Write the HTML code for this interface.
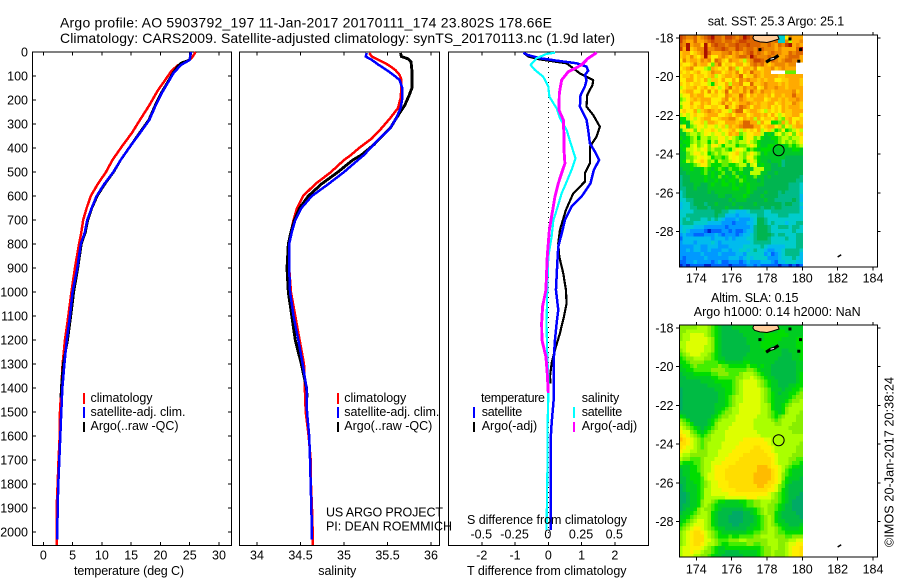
<!DOCTYPE html>
<html lang="en">
<head>
<meta charset="utf-8">
<title>Argo profile 5903792_197</title>
<style>
html,body{margin:0;padding:0;background:#fff}
svg{display:block}
text{font-family:"Liberation Sans",sans-serif;fill:#000;font-size:12.5px}
.ttl{font-size:14px}
</style>
</head>
<body>
<svg id="chart" xmlns="http://www.w3.org/2000/svg" width="900" height="580" viewBox="0 0 900 580">
<rect x="0" y="0" width="900" height="580" fill="#fff"/>
<g id="maps"></g>
<g id="plots"></g>
<text class="ttl" x="60" y="27.5" textLength="492" lengthAdjust="spacing">Argo profile: AO 5903792_197 11-Jan-2017 20170111_174 23.802S 178.66E</text>
<text class="ttl" x="60" y="43" textLength="555" lengthAdjust="spacing">Climatology: CARS2009. Satellite-adjusted climatology: synTS_20170113.nc (1.9d later)</text>

<text x="74" y="575" textLength="110" lengthAdjust="spacing">temperature (deg C)</text>
<text x="318.3" y="575" textLength="38" lengthAdjust="spacing">salinity</text>
<text x="467" y="575" textLength="159.5" lengthAdjust="spacing">T difference from climatology</text>
<text x="467" y="524" textLength="160" lengthAdjust="spacing">S difference from climatology</text>

<g>
<rect x="83" y="393" width="2" height="11" fill="#f00"/>
<rect x="83" y="407" width="2" height="11" fill="#00f"/>
<rect x="83" y="422" width="2" height="10" fill="#000"/>
<text x="90.5" y="402" textLength="62" lengthAdjust="spacing">climatology</text>
<text x="90.5" y="416" textLength="95" lengthAdjust="spacing">satellite-adj. clim.</text>
<text x="90.5" y="430" textLength="88" lengthAdjust="spacing">Argo(..raw -QC)</text>
</g>
<g>
<rect x="337" y="393" width="2" height="11" fill="#f00"/>
<rect x="337" y="407" width="2" height="11" fill="#00f"/>
<rect x="337" y="422" width="2" height="10" fill="#000"/>
<text x="344.3" y="402" textLength="62" lengthAdjust="spacing">climatology</text>
<text x="344.3" y="416" textLength="95" lengthAdjust="spacing">satellite-adj. clim.</text>
<text x="344.3" y="430" textLength="88" lengthAdjust="spacing">Argo(..raw -QC)</text>
</g>
<text x="326" y="516.7" textLength="117" lengthAdjust="spacing">US ARGO PROJECT</text>
<text x="326" y="530.7" textLength="126" lengthAdjust="spacing">PI: DEAN ROEMMICH</text>
<g>
<text x="481" y="402" textLength="64" lengthAdjust="spacing">temperature</text>
<text x="581.7" y="402" textLength="37.5" lengthAdjust="spacing">salinity</text>
<rect x="473" y="407" width="2" height="11" fill="#00f"/>
<rect x="473" y="422" width="2" height="10" fill="#000"/>
<rect x="573" y="407" width="2" height="11" fill="#0ff"/>
<rect x="573" y="422" width="2" height="10" fill="#f0f"/>
<text x="481.7" y="416" textLength="40.5" lengthAdjust="spacing">satellite</text>
<text x="481.7" y="430" textLength="55.5" lengthAdjust="spacing">Argo(-adj)</text>
<text x="581.7" y="416" textLength="40.5" lengthAdjust="spacing">satellite</text>
<text x="581.7" y="430" textLength="55.5" lengthAdjust="spacing">Argo(-adj)</text>
</g>

<text x="707.7" y="25.7" textLength="136.5" lengthAdjust="spacing">sat. SST: 25.3 Argo: 25.1</text>
<text x="711" y="302" textLength="87.5" lengthAdjust="spacing">Altim. SLA: 0.15</text>
<text x="693.7" y="316" textLength="167" lengthAdjust="spacing">Argo h1000: 0.14 h2000: NaN</text>
<text transform="translate(893.5 547) rotate(-90)" x="0" y="0" textLength="170" lengthAdjust="spacing">©IMOS 20-Jan-2017 20:38:24</text>
</svg>
<script>
// ---------- chart data ----------
const depthTicks = [0,100,200,300,400,500,600,700,800,900,1000,1100,1200,1300,1400,1500,1600,1700,1800,1900,2000];
const tempTicks = [0,5,10,15,20,25,30];
const salTicks = [34,34.5,35,35.5,36];
const salTickLabels = ['34','34.5','35','35.5','36'];
const tDiffTicks = [-2,-1,0,1,2];
const sDiffTicks = [-0.5,-0.25,0,0.25,0.5];
const sDiffTickLabels = ['-0.5','-0.25','0','0.25','0.5'];
const mapLonTicks = [174,176,178,180,182,184];
const mapLatTicks = [-18,-20,-22,-24,-26,-28];

const tempClimDepth = [0,26,47,55,78,117,158,222,283,338,394,450,500,550,600,650,700,750,800,900,1000,1100,1200,1300,1400,1500,1600,1700,1800,1900,2000,2053];
const tempClim = [26.0,25.3,24.0,23.0,21.9,20.8,19.6,18.1,16.5,15.1,13.4,11.8,10.7,9.3,8.1,7.4,6.8,6.5,6.1,5.4,4.8,4.27,3.7,3.3,3.07,2.85,2.8,2.6,2.45,2.28,2.33,2.28];
const tempSatDepth = [0,33,54,89,131,172,222,283,338,394,450,500,550,600,650,700,750,800,900,1000,1100,1200,1300,1400,1500,1600,1700,1800,1900,2000,2030];
const tempSat = [25.2,25.0,23.5,22.2,21.2,20.2,19.2,18.1,16.5,14.8,13.2,11.95,10.4,9.1,8.25,7.5,7.1,6.4,5.8,5.0,4.55,4.0,3.6,3.25,3.07,2.9,2.73,2.56,2.45,2.39,2.39];
const tempArgoDepth = [0,33,45,60,89,131,172,222,283,338,394,450,500,550,600,650,700,750,800,900,1000,1100,1200,1300,1400,1440];
const tempArgo = [25.2,25.0,23.6,22.9,22.1,21.1,20.1,19.1,18.0,16.4,14.8,13.2,12.0,10.5,9.2,8.3,7.6,7.2,6.5,5.9,5.2,4.7,4.15,3.4,3.07,3.0];

const salClimDepth = [4,19,33,54,75,96,117,151,193,234,276,318,360,401,429,450,500,550,600,650,700,750,800,900,1000,1100,1200,1300,1400,1500,1600,1700,1800,1900,2000,2053];
const salClim = [35.29,35.32,35.40,35.51,35.59,35.64,35.66,35.66,35.65,35.62,35.53,35.43,35.32,35.17,35.08,35.0,34.85,34.67,34.53,34.46,34.42,34.39,34.37,34.37,34.39,34.44,34.49,34.54,34.55,34.56,34.594,34.617,34.62,34.632,34.64,34.64];
const salSatDepth = [4,19,33,54,75,96,117,151,193,234,276,318,360,401,429,450,500,550,600,650,700,750,800,900,1000,1100,1200,1300,1400,1500,1600,1700,1800,1900,2000,2030];
const salSat = [35.26,35.25,35.32,35.40,35.49,35.57,35.64,35.67,35.67,35.65,35.6,35.53,35.41,35.30,35.23,35.16,35.0,34.82,34.63,34.51,34.44,34.40,34.37,34.37,34.38,34.42,34.475,34.525,34.57,34.575,34.6,34.61,34.617,34.625,34.63,34.63];
const salArgoDepth = [4,19,29,40,75,117,151,179,221,276,318,346,387,429,450,500,550,600,650,700,750,800,900,1000,1100,1200,1300,1400,1440];
const salArgo = [35.65,35.66,35.74,35.77,35.78,35.78,35.78,35.75,35.70,35.6,35.53,35.45,35.34,35.2,35.1,34.93,34.74,34.59,34.49,34.43,34.39,34.36,34.345,34.36,34.4,34.44,34.51,34.57,34.575];

const tDiffSatDepth = [3,12,26,36,47,61,78,96,117,144,179,228,255,283,325,380,415,450,491,547,602,644,700,741,811,880,991,1074,1130,1199,1269,1352,1435,1546,1616,1990];
const tDiffSat = [-0.75,-0.63,-0.25,0.25,0.85,1.15,1.2,1.1,1.15,1.1,0.97,0.95,1.05,1.15,1.2,1.25,1.4,1.53,1.37,1.27,1.0,0.7,0.5,0.43,0.3,0.27,0.23,0.3,0.25,0.2,0.17,0.17,0.17,0.1,0.07,0.07];
const tDiffArgoDepth = [3,19,31,47,89,117,137,179,228,262,311,353,394,464,505,540,589,658,741,797,852,922,991,1047,1102,1171,1241,1296,1352,1380];
const tDiffArgo = [-0.75,-0.6,-0.25,0.55,0.95,1.35,1.33,1.17,1.15,1.35,1.55,1.45,1.25,1.25,1.1,1.1,0.75,0.53,0.35,0.3,0.33,0.45,0.53,0.55,0.47,0.35,0.2,0.1,0.05,0.07];
const sDiffSatDepth = [3,8,26,54,75,103,144,186,235,276,325,380,443,491,547,589,658,700,769,852,991,1130,1269,1352,1435,1546,1685,1782,1990];
const sDiffSat = [0.05,-0.013,-0.088,-0.133,-0.1,-0.038,0,0.008,0.063,0.088,0.138,0.168,0.205,0.175,0.133,0.1,0.063,0.038,0.025,0,-0.008,-0.013,-0.008,0,0,-0.005,-0.005,-0.008,-0.013];
const sDiffArgoDepth = [3,26,54,82,117,172,242,283,353,408,464,505,547,602,658,741,852,991,1060,1130,1199,1269,1338,1421];
const sDiffArgo = [0.363,0.3,0.25,0.15,0.1,0.083,0.08,0.113,0.118,0.118,0.125,0.1,0.075,0.05,0.033,0.008,-0.008,-0.018,-0.043,-0.05,-0.048,-0.018,-0.008,0];

// SST cell colour classes, north to south, west to east ('.' = no data)
const sstPalette = {A:'#0022cc',B:'#0066ff',C:'#0099ff',D:'#00bbee',E:'#00cccc',F:'#00bb88',G:'#00b550',H:'#00c828',I:'#00dd00',J:'#66ee00',K:'#bbff00',L:'#eeff00',M:'#ffee00',N:'#ffcc00',O:'#ffaa00',P:'#ee8800',Q:'#dd6600',R:'#cc4400',S:'#aa1100'};
const sstRows = [
'RQPPQ OPQRS QQPRR QPQSR QQQQQ QQQEE MPOOO',
'RPOOQ OOPQR QQPQQ PQRRQ QQQQQ QPQEE PKOOP',
'QPSOP PNSOQ RQQPQ QRQQR QQQPP QPOQP RSOPO',
'ROSNO PPSPP QQRQP PRQPQ QPQQP PPOPO OOOQS',
'NOOMN OPSQO OOPPQ OPOPQ RPQPO PQPPO OQPQQ',
'NONPN MOSOM MOPON OPQQP SQPPP QPPOO PQQQO',
'MPNOO NPOPM QPNMP OONKO PRRQP OQPOP QQPPO',
'NMMNP NOOMJ OQMNN MOOMN PQPQO NOPPP OPP..',
'MNOPM MMKJO NMNMP OKMOO NPMNO OPNOP OOO..',
'NMNMN OMMNP OOMNO NPMON QOONO O.... JJJ..',
'MNNOM NNMNO KMNOO NOQMN NPONO OOONN OOOOO',
'MMOOM NMOKN NMOMM OMPOP OONON OOMMN NOOON',
'NMNMN NMMKI NMMOK OOPMM QNNOP OOONO NOOON',
'KMNNO MNOMN MKMOQ NONPO OPMNP OOPOO NOOOO',
'MNOOM MOMPM OMNQM OONPN QONPO ONOOO OOPNO',
'KMMON OOMMN NMMPO NNQOM ONOON OMOON OOQOO',
'JKMNO NOOOM MMOPM ONPON NOOOM NOONO NOOPO',
'KMMOM MONOM MNPNO MNOOP ONONN OOMNO NNPON',
'JMMNM NOMMN NMMQN MOQPO MOONN OMNMO NOOON',
'MNMMO KNOPO NOMMK OQQMN OONMK NMNMO NNOOO',
'KMKMN MMNOO OMMNO MOOOM NOONO MOMKM NNOOM',
'IIKMK MNOOM MNOOP PNMON OKOMN NMOKJ NOMMN',
'HIHKM MNKOO NMMOO ONOQQ OOKOM MIIJO KOMON',
'KMHJK MMKMM KMNKO NOPQQ QOOMN OOMNJ MKNOO',
'HKMMJ MKMMN MKMMN OMKNM NMOKM NKIJM IJKMK',
'HHJKK JKMLK MMKMO NOJKM MNNKH IHKLJ KMJMN',
'IHIJK IKKJK KMMKM KJIKM MJKIH HIIJK KJKKM',
'HIIJK JKKIK JMMKJ KJKKM KJIHH HHIJK JKJKM',
'IHIKL JKLJM MKIKK KIJJK MKIHH IIHIH IJIJK',
'HIKKL KLMJK JJKJI KMLKI JIHII IHHHH HHIIH',
'HHJKM MKLIJ KJKKL MNKJK MKJHI HHHHH HHHHH',
'HHJJK LMLKI JJIJL MLKJM LJIHH HHHHH GGGGG',
'HIKJL MNMJK IKJJK MLKIK MKIHH GHHHF GGGGG',
'HHHIJ KMMJI IIJJI IJKKH KLHIH HGGHF GGGGG',
'GHHIH HIJIH IJIHJ IIJHH HKKKH HGGGG GGGGG',
'GGHHH HIJHI HIJHH JHIHH KKKHH GGHGG GGGGG',
'FGGHH HHIHI HJHIH IJHIH HJHHG HGGGG GGGGF',
'FGGHH HHIHH IHIHI IHJIH HHGHG GGGGG GGGFF',
'FGGGH HGGHI HHIIH IHIHI HHHHG GGGGG GFFFE',
'FFGGH GGGHH HHHHH IIHHI HHGGG GGGGG GFFFE',
'EFGGG GGGHG HHHHH HHHHI HGGGH GGGFG FFFFE',
'EFGGG GGGGG GHHGG HHHIH GGGHG GGGFF FFFFD',
'EEFFG GGGGG GGGGH GHHHG GGGGH GGFFF FFGFD',
'DEEFG GGFGG HGGGG HGGGG GHGGG GGGGF GGFFE',
'DEEFF GGGFG GGGHG GGHGG GGGFG GFGGF FFFFD',
'EEEEF FFFFF GGFFE EDDDE FFFFE EFFFF FFFFE',
'EEFFF FFFFF GFFDD DCDDD EEFFE EEEFF FEEEE',
'EFEFF FEEFE FEDCC CDCCC DEGGF EEEEE EEEEE',
'EFFFE EEEDD DDCCC BCCCD DEGGF EFEEE DEEFF',
'DEEED DDCCC CCCBC CCCCC DFGGG FEEFF FEFFE',
'DEDCC CCBAB BBCCB CBBCD DFGGG FEEEE EEFEE',
'CDCCB BBCCC DCBCC CBCDD EFGGG GFEFF EEEFF',
'BDDDD DDDDC DDDCD CDDDE EFGGG FEEEE FEEFF',
'CDDDC DDDDE DCDDD DDDDD EFFFF FEEEE EEEFF',
'CCCCD DCCDD DCCCD DDDEE EEEFE DDDDD EEEFF',
'CCDCD DCCDC CCDDC DDEED EFEED CCDDE FFFFE',
'CCCCC CDCCC CDCCC CDDCE EEEEC DBCDE FFFFD',
'CBCCC CCDCC CCCCD DDCDE DEEEE CCCDE EEFED',
'BBCCD CCCCB CDBBC CCBCD CCCDD DCBDD EEEDD',
'ABABB BBAAB BBBBA BBBBC CBCBB BBBAB BABAB'
];

// Altimetric SLA cell colour classes
const slaPalette = {a:'#00aa66',b:'#00bb44',c:'#00cc22',d:'#00dd00',e:'#44ee00',f:'#88ee00',g:'#aaff00',h:'#ddff00',i:'#ffee00',j:'#ffdd00',k:'#ffbb00'};
const slaRows = [
'fffff gggfe dcbbb ccccc cccdc ccccc ccccc',
'ffggg gggfe dcbbb bbccc cccdd cccdd ccccc',
'fgghh hhgfe dcbbb bbbcc ccccd ddddd dcccc',
'fgghh hhhgf dcbbb bbbbc ccccd ddddc cccdd',
'gghhh hhhgf dcbbb bbbbc cccdd dddcc cccdd',
'gghhh hhggf dcbbb bbbbb cccdd dcccc cccdd',
'fghhh hhggf dcbbb bbbbb ccccd dcccb bcccd',
'efghh hggfe dcbbb bbbbc ccccc ccccb bbccd',
'deffg ggffe dccbb bbbcc ccccc cccbb bbccd',
'ddeff ffeee eddcc cccdd ccccc ccbbb bbbcc',
'cddef eeeee efeed dddde ddcdc cbbbb bbbcc',
'ccdde eeeef fffee eeeef fedcc cbbbb bbbcc',
'bcccd dddde efffe eefgg gfedc cbbbb bbbcd',
'bbccc ccccd deeee effgg hgfed ccbbb bbbcd',
'bbbbb bcccc ddddd efghh hhgfe dccbb bbbcd',
'bbbbb bbbcc ccddd efghh hhgfe dccbb bccdd',
'abbbb bbbbb cccdd efghh hhhgf ecccb ccdde',
'abbbb bbbbb bccdd efghh hhhgf edcbc cddef',
'abbbb bbbbb bccde fgghh hhhgf edccc cdeff',
'abbbb bbbbb bccde fgghh hhhgf edccc deffg',
'abbbb bbbbb cccde fghhh hhhgg fdccd efggg',
'abbbb bbbbb ccdef gghhh hhhgg fdccd fgggg',
'bbbbb bbbbb cdeff gghhh hhhgg fedcd fgggf',
'dcbbb bbbbc deffg ghhhh hhggg fedef gggff',
'fedbb bbbcd efggg ghhhh hgggg gfefg gggff',
'gfedb bbbcd fgggg hhhhh hgggg ggffg ggfff',
'hgfed cbcde fgggh hhhhh hgggg ggggg gffff',
'ihhfe dcdef ggghh hhhhh hhggg ggggg ggfff',
'jihgf edefg ggghh hhhhh hhhgg ggggg ggggg',
'kjihg feffg ggghh hhhii iiiih hgggg ggggg',
'jjihg fefgg gghhh hhiii iiiii hgggg ggggf',
'jihhg fefgg gghhh hiiii ijjii ihggg gggff',
'ihhgg fffgg ghhhh iiiii jjjji ihggg gggff',
'hggff fffgg ghhhi iiijj jjjjj iihgg ggfff',
'gffee efggg hhhii iijjj jjjjj jihgg gffee',
'eddde efggh hhiii ijjjj jjjjj jihgg gfeed',
'cccdd efggh iiiij jjjjj jjkkk jiihg feddc',
'bccdd efggh iiijj jjjjj jjkkk kjihg edccc',
'bccdd dfghh iiijj jjjjj jkkkk kjihf edccc',
'bbcdd deghh iiijj jjjjj jkkkk kjihf dcccb',
'bbccd defgh hiiij jjjjj jkkkk jjihe dcbbb',
'abccc defgh hiiij jjjjj jjkkj jihfe cbbbb',
'abccc deggh hhiii ijjjj jjjjj iihfd cbbbb',
'aabcc deggh hhhhi iiiii iiiii hgfed cbbba',
'aabcc deggg ggghh hhhhi iihhh hgfed cbbaa',
'aabcc dfggf eddcc ccdde effgg gffed cbaaa',
'abbcc dfgfe dcccc cccde effgg ffedc bbaaa',
'abccd fgffe dcbbb bbbcc cdefg ffedc bbaaa',
'bccde fggfd cbbbb aaabb cdefg ffdcb bbbaa',
'ccdef gggfd cbbba aaabb bcdef gfdcb bbbba',
'cdefg hhgfd cbbba aaabb bcdef gfdcc bbbbb',
'defgh hhgfd cbbbb aabbb ccdef gfedc cbbbc',
'efghi ihgfe dccbb bbbbc cddef ggfed ccccd',
'fghij jihgf edccc ccccd deeff ggfee ddddd',
'fghij jjhgf eddde ddeee effgg ggfff eefff',
'fghij jjhhg feeef ffggf fffff gggff fgghh',
'fghij jihgg fedde eeeef feeff gggff ghhii',
'ghhii ihgfe dccdd ddddd dddef fggff ghiij',
'ghhih hgffe dccbb bbccc ccdef fgfff ghiij',
'ghhhg gffed ccbbb bbbcc ccdef fgfff ghiij'
];

const floatLon = 178.66;
const floatLat = -23.802;
const mainIslandLon = [177.2,177.3,177.6,178.0,178.3,178.68,178.6,177.25];
const mainIslandLat = [-18.0,-18.12,-18.2,-18.23,-18.16,-18.05,-17.87,-17.87];
const reefLon = [177.95,178.2,178.4,178.65];
const reefLat = [-19.25,-19.1,-19.05,-18.9];
const islandDotLon = [177.6,179.8,179.9,179.3];
const islandDotLat = [-18.6,-19.2,-18.6,-18.05];
const farIslandLon = [182.0,182.1,182.2];
const farIslandLat = [-29.32,-29.26,-29.2];

// ---------- axis functions ----------
const yDepth = d => 52 + d * 0.2401;
const xTemp = v => 43.3 + v * 5.857;
const xSal = v => 257 + (v - 34) * 87;
const xTDiff = v => 548.3 + v * 33.25;
const xSDiff = v => 548.3 + v * 133;
const xLon = lon => 696.3 + (lon - 174) * 17.67;
const latToOffset = lat => (-18 - lat) * 19.35;

const NS = 'http://www.w3.org/2000/svg';
const plots = document.getElementById('plots');
const maps = document.getElementById('maps');
function mk(tag, attrs, parent) {
  const e = document.createElementNS(NS, tag);
  for (const k in attrs) e.setAttribute(k, attrs[k]);
  parent.appendChild(e);
  return e;
}

function drawFrame(x0, x1, y0, y1, parent, name) {
  const el = mk('rect', {x:x0, y:y0, width:x1 - x0, height:y1 - y0, fill:'none', stroke:'#000', 'stroke-width':1, 'shape-rendering':'crispEdges'}, parent);
  
  
}
function tickLine(x1, y1, x2, y2, parent) {
  const el = mk('line', {x1, y1, x2, y2, stroke:'#000', 'stroke-width':1, 'shape-rendering':'crispEdges'}, parent);
  
  
}
function tickLabel(x, y, str, anchor, parent) {
  const el = mk('text', {x, y, 'text-anchor':anchor}, parent);
  el.textContent = str;
  
  
}
function drawLine(xs, depths, xFn, color, width, parent, name) {
  const pts = xs.map((v, i) => xFn(v).toFixed(2) + ',' + yDepth(depths[i]).toFixed(2)).join(' ');
  const el = mk('polyline', {points:pts, fill:'none', stroke:color, 'stroke-width':width, 'stroke-linejoin':'round', 'shape-rendering':'crispEdges'}, parent);
  
  
}

const top0 = 52, bot0 = 545.5;

// ---------- panel 1: temperature ----------
const p1 = mk('g', {}, plots);


drawFrame(32.5, 231.5, top0, bot0, p1, 'temperature-axes-frame');
depthTicks.forEach(d => {
  tickLine(32.5, yDepth(d), 36, yDepth(d), p1);
  tickLine(228, yDepth(d), 231.5, yDepth(d), p1);
  tickLabel(28, yDepth(d) + 4.5, String(d), 'end', p1);
});
tempTicks.forEach(t => {
  tickLine(xTemp(t), top0, xTemp(t), top0 + 3.5, p1);
  tickLine(xTemp(t), bot0, xTemp(t), bot0 - 3.5, p1);
  tickLabel(xTemp(t), 559.3, String(t), 'middle', p1);
});
drawLine(tempClim, tempClimDepth, xTemp, '#f00', 2.5, p1, 'temperature-climatology-line');
drawLine(tempArgo, tempArgoDepth, xTemp, '#000', 2.6, p1, 'temperature-argo-line');
drawLine(tempSat, tempSatDepth, xTemp, '#00f', 2.5, p1, 'temperature-satellite-line');

// ---------- panel 2: salinity ----------
const p2 = mk('g', {}, plots);


drawFrame(239.5, 439.5, top0, bot0, p2, 'salinity-axes-frame');
salTicks.forEach((s, i) => {
  tickLine(xSal(s), top0, xSal(s), top0 + 3.5, p2);
  tickLine(xSal(s), bot0, xSal(s), bot0 - 3.5, p2);
  tickLabel(xSal(s), 559.3, salTickLabels[i], 'middle', p2);
});
drawLine(salClim, salClimDepth, xSal, '#f00', 2.5, p2, 'salinity-climatology-line');
drawLine(salArgo, salArgoDepth, xSal, '#000', 2.9, p2, 'salinity-argo-line');
drawLine(salSat, salSatDepth, xSal, '#00f', 2.5, p2, 'salinity-satellite-line');

// ---------- panel 3: differences ----------
const p3 = mk('g', {}, plots);


drawFrame(448.5, 648.5, top0, bot0, p3, 'difference-axes-frame');
const zeroLine = mk('line', {x1:xTDiff(0), y1:top0, x2:xTDiff(0), y2:bot0, stroke:'#000', 'stroke-width':1, 'stroke-dasharray':'1 4', 'shape-rendering':'crispEdges'}, p3);


tDiffTicks.forEach(t => {
  if (t !== 0) tickLine(xTDiff(t), top0, xTDiff(t), top0 + 3.5, p3);
  tickLine(xTDiff(t), bot0, xTDiff(t), bot0 - 3.5, p3);
  tickLabel(xTDiff(t), 559.3, String(t), 'middle', p3);
});
sDiffTicks.forEach((s, i) => {
  tickLabel(xSDiff(s) - 0.5, 538.7, sDiffTickLabels[i], 'middle', p3);
});
drawLine(tDiffArgo, tDiffArgoDepth, xTDiff, '#000', 2.2, p3, 't-difference-argo-line');
drawLine(tDiffSat, tDiffSatDepth, xTDiff, '#00f', 2.5, p3, 't-difference-satellite-line');
drawLine(sDiffSat, sDiffSatDepth, xSDiff, '#0ff', 2.2, p3, 's-difference-satellite-line');
drawLine(sDiffArgo, sDiffArgoDepth, xSDiff, '#f0f', 2.9, p3, 's-difference-argo-line');

// ---------- maps ----------
function drawMap(rows, palette, yAtM18, name, xLabelBaseline) {
  const g = mk('g', {}, maps);
  
  
  const yLat = lat => yAtM18 + latToOffset(lat);
  const lonStart = 173.03, latStart = -17.87, cell = 0.2;
  rows.forEach((row, r) => {
    const chars = row.replace(/ /g, '');
    for (let c = 0; c < chars.length; c++) {
      const col = palette[chars[c]];
      if (!col) continue;
      const x = xLon(lonStart + c * cell);
      const y = yLat(latStart - r * cell);
      const el = mk('rect', {x:x, y:y, width:xLon(lonStart + (c + 1) * cell) - x, height:yLat(latStart - (r + 1) * cell) - y, fill:col, 'shape-rendering':'crispEdges'}, g);
      
      
    }
  });
  const pts = (lons, lats) => lons.map((v, i) => xLon(v).toFixed(2) + ',' + yLat(lats[i]).toFixed(2)).join(' ');
  const island = mk('polygon', {points:pts(mainIslandLon, mainIslandLat), fill:'#ffcc99', stroke:'#000', 'stroke-width':1}, g);
  
  
  const reef = mk('polyline', {points:pts(reefLon, reefLat), fill:'none', stroke:'#000', 'stroke-width':3.2}, g);
  
  
  const reefCore = mk('polyline', {points:pts(reefLon.slice(1, 3), reefLat.slice(1, 3)), fill:'none', stroke:'#fff', 'stroke-width':1}, g);
  
  
  islandDotLon.forEach((lon, i) => {
    const dot = mk('rect', {x:xLon(lon) - 1.5, y:yLat(islandDotLat[i]) - 1.5, width:3, height:3, fill:'#000'}, g);
    
    
  });
  const far = mk('polyline', {points:pts(farIslandLon, farIslandLat), fill:'none', stroke:'#000', 'stroke-width':1.5}, g);
  
  
  const ring = mk('circle', {cx:xLon(floatLon), cy:yLat(floatLat), r:5.5, fill:'none', stroke:'#000', 'stroke-width':1}, g);
  
  
  const x0 = 679.5, x1 = 877.5, y0 = yAtM18 - 3, y1 = yAtM18 + 229;
  drawFrame(x0, x1, y0, y1, g, 'map-frame');
  mapLonTicks.forEach(lon => {
    tickLine(xLon(lon), y0 - 3, xLon(lon), y0, g);
    tickLine(xLon(lon), y1, xLon(lon), y1 + 3.5, g);
    tickLabel(xLon(lon), xLabelBaseline, String(lon), 'middle', g);
  });
  mapLatTicks.forEach(lat => {
    tickLine(x0 - 3.5, yLat(lat), x0, yLat(lat), g);
    tickLine(x1, yLat(lat), x1 + 3, yLat(lat), g);
    tickLabel(673.5, yLat(lat) + 4.5, String(lat), 'end', g);
  });
}
drawMap(sstRows, sstPalette, 38, 'sst-map', 282.7);
drawMap(slaRows, slaPalette, 328, 'sla-map', 573.3);
</script>
</body>
</html>
